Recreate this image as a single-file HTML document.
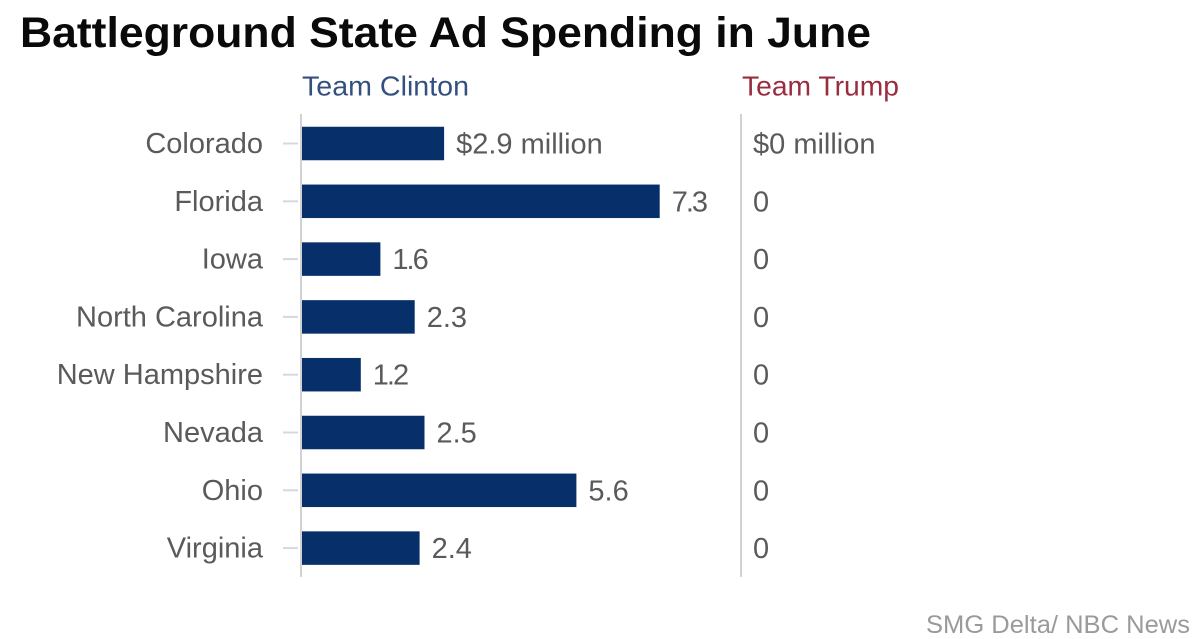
<!DOCTYPE html>
<html>
<head>
<meta charset="utf-8">
<title>Battleground State Ad Spending in June</title>
<style>
html,body{margin:0;padding:0;background:#fff;}
svg{display:block;font-family:"Liberation Sans",sans-serif;}
</style>
</head>
<body>
<svg id="chart" width="1200" height="639" viewBox="0 0 1200 639" xmlns="http://www.w3.org/2000/svg">
<rect width="1200" height="639" fill="#fff"/>
<text x="20" y="47" font-size="43" font-weight="bold" fill="#0a0a0a" textLength="851" lengthAdjust="spacingAndGlyphs">Battleground State Ad Spending in June</text>
<text x="302" y="95.5" font-size="28" fill="#34507f" textLength="167" lengthAdjust="spacingAndGlyphs">Team Clinton</text>
<text x="742" y="95.5" font-size="28" fill="#9a2c3f" textLength="157" lengthAdjust="spacingAndGlyphs">Team Trump</text>
<line x1="301" y1="114" x2="301" y2="577" stroke="#d2d2d2" stroke-width="2"/>
<line x1="741" y1="114" x2="741" y2="577" stroke="#d2d2d2" stroke-width="2"/>
<g id="rows"></g>
<text x="926" y="633" font-size="25" fill="#9a9a9a" textLength="264" lengthAdjust="spacingAndGlyphs">SMG Delta/ NBC News</text>
</svg>
<script>
const states = ["Colorado","Florida","Iowa","North Carolina","New Hampshire","Nevada","Ohio","Virginia"];
const clintonValues = [2.9,7.3,1.6,2.3,1.2,2.5,5.6,2.4];
const trumpValues = [0,0,0,0,0,0,0,0];

const NS = "http://www.w3.org/2000/svg";
const rows = document.getElementById("rows");
const xScale = v => 302 + v * 49;
const yScale = i => 143.5 + i * 57.8;
const barHeight = 33.5;
const fontSize = 29;
const textColor = "#5a5a5a";

function make(tag, attrs, text) {
  const el = document.createElementNS(NS, tag);
  for (const k in attrs) el.setAttribute(k, attrs[k]);
  if (text !== undefined) el.textContent = text;
  rows.appendChild(el);
  return el;
}

states.forEach((state, i) => {
  const cy = yScale(i);
  const slug = state.toLowerCase().replace(/ /g, "-");
  const textY = cy + 9.5;

  const label = make("text", {x: 263, y: textY, "font-size": fontSize, fill: textColor, "text-anchor": "end"}, state);
  
  

  const tick = make("line", {x1: 283, x2: 298, y1: cy, y2: cy, stroke: "#d8d8d8", "stroke-width": 2});
  
  

  const bar = make("rect", {x: xScale(0), y: cy - barHeight / 2, width: xScale(clintonValues[i]) - xScale(0), height: barHeight, fill: "#07306a"});
  
  

  const cText = clintonValues[i].toFixed(1);
  // the reference face sets 1 and 7 tightly against what follows
  const tight = /^[17]/.test(cText) ? {"letter-spacing": -2} : {};
  const cLabel = make("text", Object.assign({x: xScale(clintonValues[i]) + 12, y: textY + 0.5, "font-size": fontSize, fill: textColor}, tight), i === 0 ? "$" + cText + " million" : cText);
  
  

  const tText = String(trumpValues[i]);
  const tLabel = make("text", {x: 753, y: textY + 0.5, "font-size": fontSize, fill: textColor}, i === 0 ? "$" + tText + " million" : tText);
  
  
});
</script>
</body>
</html>
